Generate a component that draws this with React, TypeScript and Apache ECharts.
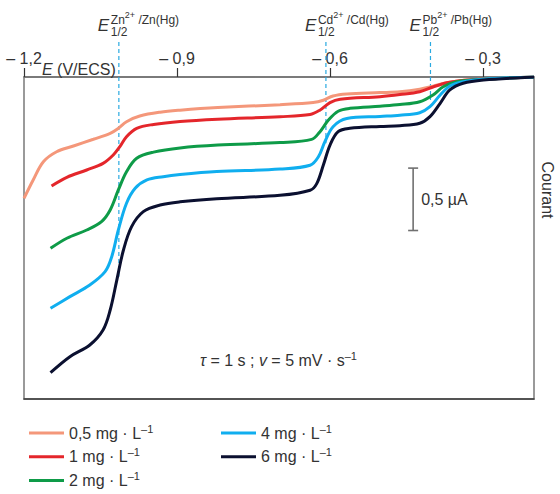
import React, { useEffect, useRef } from 'react';
import * as echarts from 'echarts';

// ---------- data ----------
const potentialTicks = [-1.2, -0.9, -0.6, -0.3];
const seriesNames = ['0,5', '1', '2', '4', '6'];
const seriesColors = ['#F4977A', '#E4262B', '#0E9B48', '#10AEEF', '#0B1030'];

const c05: [number, number][] = [
  [-1.2, 0.972], [-1.182, 0.825], [-1.162, 0.679], [-1.136, 0.599], [-1.103, 0.553],
  [-1.064, 0.499], [-1.031, 0.451], [-1.015, 0.411], [-0.999, 0.358], [-0.973, 0.313],
  [-0.933, 0.282], [-0.894, 0.266], [-0.82, 0.245], [-0.698, 0.222], [-0.633, 0.205],
  [-0.613, 0.186], [-0.594, 0.152], [-0.567, 0.136], [-0.502, 0.125], [-0.463, 0.118],
  [-0.424, 0.098], [-0.398, 0.074], [-0.371, 0.046], [-0.332, 0.024], [-0.299, 0.016],
  [-0.2, 0.0],
];
const c1: [number, number][] = [
  [-1.146, 0.873], [-1.116, 0.804], [-1.077, 0.745], [-1.045, 0.692], [-1.025, 0.625],
  [-1.012, 0.558], [-0.999, 0.478], [-0.979, 0.411], [-0.946, 0.38], [-0.894, 0.356],
  [-0.82, 0.338], [-0.698, 0.318], [-0.639, 0.301], [-0.62, 0.266], [-0.6, 0.205],
  [-0.58, 0.178], [-0.502, 0.158], [-0.463, 0.141], [-0.424, 0.118], [-0.398, 0.08],
  [-0.371, 0.046], [-0.345, 0.03], [-0.3, 0.018], [-0.2, 0.0],
];
const c2: [number, number][] = [
  [-1.148, 1.373], [-1.116, 1.292], [-1.077, 1.226], [-1.048, 1.159], [-1.031, 1.066],
  [-1.015, 0.905], [-0.999, 0.759], [-0.979, 0.651], [-0.946, 0.602], [-0.894, 0.568],
  [-0.82, 0.545], [-0.698, 0.525], [-0.636, 0.5], [-0.62, 0.44], [-0.603, 0.345],
  [-0.584, 0.274], [-0.561, 0.251], [-0.502, 0.234], [-0.463, 0.221], [-0.424, 0.198],
  [-0.398, 0.144], [-0.378, 0.078], [-0.352, 0.038], [-0.3, 0.018], [-0.2, 0.0],
];
const c4: [number, number][] = [
  [-1.148, 1.853], [-1.11, 1.76], [-1.071, 1.667], [-1.041, 1.56], [-1.028, 1.44],
  [-1.015, 1.226], [-0.999, 1.012], [-0.982, 0.892], [-0.959, 0.825], [-0.927, 0.799],
  [-0.894, 0.782], [-0.822, 0.758], [-0.698, 0.737], [-0.639, 0.707], [-0.623, 0.641],
  [-0.61, 0.518], [-0.594, 0.398], [-0.567, 0.333], [-0.502, 0.316], [-0.463, 0.306],
  [-0.424, 0.286], [-0.404, 0.238], [-0.384, 0.144], [-0.365, 0.072], [-0.339, 0.038],
  [-0.3, 0.018], [-0.2, 0.0],
];
const c6: [number, number][] = [
  [-1.148, 2.369], [-1.11, 2.241], [-1.071, 2.147], [-1.045, 2.027], [-1.031, 1.867],
  [-1.018, 1.627], [-1.005, 1.386], [-0.989, 1.199], [-0.966, 1.079], [-0.933, 1.026],
  [-0.894, 1.0], [-0.822, 0.975], [-0.698, 0.948], [-0.639, 0.907], [-0.626, 0.854],
  [-0.613, 0.705], [-0.6, 0.545], [-0.584, 0.438], [-0.561, 0.411], [-0.502, 0.396],
  [-0.463, 0.39], [-0.424, 0.371], [-0.404, 0.318], [-0.384, 0.211], [-0.365, 0.104],
  [-0.339, 0.05], [-0.299, 0.024], [-0.2, 0.0],
];
const curves = [c05, c1, c2, c4, c6];

// half-wave potentials (V/ECS) and how far the dashed guide reaches down (µA)
const halfWaveIons = ['Zn', 'Cd', 'Pb'];
const halfWavePotentials = [-1.014, -0.608, -0.403];
const halfWaveDepths = [1.6, 0.53, 0.185];
const labelLevel = -0.28; // current level (above frame) where the guides start

// scale bar: potential, start current, size (µA)
const scaleBarE = -0.437;
const scaleBarStart = 0.73;
const scaleBarSize = 0.5;
const scaleBarLabel = '0,5 µA';

const FONT = '"Liberation Sans", Arial, Helvetica, sans-serif';
const TXT = '#333';

export default function App() {
  const ref = useRef<HTMLDivElement>(null);

  useEffect(() => {
    if (!ref.current) return;
    const chart = echarts.init(ref.current, undefined, { renderer: 'svg' });

    const curveSeries = curves.map((d, k) => ({
      name: seriesNames[k],
      type: 'line',
      data: d,
      smooth: 0.35,
      showSymbol: false,
      symbol: 'none',
      lineStyle: { color: seriesColors[k], width: 3 },
      itemStyle: { color: seriesColors[k] },
      z: 3 + k,
    }));

    const guideSeries = halfWavePotentials.map((E, k) => ({
      name: 'guide' + k,
      type: 'line',
      data: [[E, labelLevel], [E, halfWaveDepths[k]]],
      clip: false,
      showSymbol: false,
      symbol: 'none',
      lineStyle: { color: '#2AAAE1', width: 1.2, type: [4, 3] },
      z: 2,
      silent: true,
    }));

    const halfWaveLabelSeries = {
      type: 'custom',
      clip: false,
      silent: true,
      encode: { x: 0, y: 1 },
      data: halfWavePotentials.map((E, k) => [E, labelLevel, k]),
      renderItem: (params: any, api: any) => {
        const p = api.coord([api.value(0), api.value(1)]);
        const ion = halfWaveIons[api.value(2)];
        return {
          type: 'group',
          children: [
            {
              type: 'text',
              x: p[0] - 21,
              y: p[1] - 16.5,
              style: {
                text: 'E',
                fontSize: 17,
                fontStyle: 'italic',
                fontFamily: FONT,
                fill: TXT,
                verticalAlign: 'middle',
                align: 'left',
              },
            },
            {
              type: 'text',
              x: p[0] - 8,
              y: p[1] - 24,
              style: {
                text: `{a|${ion}}{b|2+}{a| /${ion}(Hg)}`,
                verticalAlign: 'middle',
                align: 'left',
                rich: {
                  a: { fontSize: 12, lineHeight: 15, fontFamily: FONT, fill: TXT, verticalAlign: 'bottom' },
                  b: { fontSize: 9, lineHeight: 10, fontFamily: FONT, fill: TXT, verticalAlign: 'top' },
                },
              },
            },
            {
              type: 'text',
              x: p[0] - 8,
              y: p[1] - 10,
              style: {
                text: '1/2',
                fontSize: 12,
                fontFamily: FONT,
                fill: TXT,
                verticalAlign: 'middle',
                align: 'left',
              },
            },
          ],
        };
      },
      z: 10,
    };

    const scaleBarSeries = {
      type: 'custom',
      clip: false,
      silent: true,
      encode: { x: 0, y: 1 },
      data: [[scaleBarE, scaleBarStart, scaleBarStart + scaleBarSize]],
      renderItem: (params: any, api: any) => {
        const a = api.coord([api.value(0), api.value(1)]);
        const b = api.coord([api.value(0), api.value(2)]);
        const st = { stroke: '#707070', lineWidth: 1.6 };
        return {
          type: 'group',
          children: [
            { type: 'line', shape: { x1: a[0], y1: a[1], x2: b[0], y2: b[1] }, style: st },
            { type: 'line', shape: { x1: a[0] - 5, y1: a[1], x2: a[0] + 5, y2: a[1] }, style: st },
            { type: 'line', shape: { x1: b[0] - 5, y1: b[1], x2: b[0] + 5, y2: b[1] }, style: st },
            {
              type: 'text',
              x: a[0] + 8,
              y: (a[1] + b[1]) / 2,
              style: {
                text: scaleBarLabel,
                fontSize: 16,
                fontFamily: FONT,
                fill: TXT,
                verticalAlign: 'middle',
                align: 'left',
              },
            },
          ],
        };
      },
      z: 10,
    };

    const legendCommon = {
      orient: 'vertical',
      top: 418,
      height: 90,
      icon: 'rect',
      itemWidth: 35,
      itemHeight: 3,
      itemGap: 5.7,
      itemTextGap: 9,
      selectedMode: false,
      formatter: (name: string) => `{n|${name} mg · L}{s|–1}`,
      textStyle: {
        rich: {
          n: { fontSize: 16, lineHeight: 20, color: TXT, fontFamily: FONT, verticalAlign: 'middle' },
          s: { fontSize: 11, lineHeight: 11, color: TXT, fontFamily: FONT, verticalAlign: 'top' },
        },
      },
    };

    chart.setOption({
      animation: false,
      backgroundColor: '#fff',
      grid: {
        left: 24,
        right: 26,
        top: 77,
        bottom: 95,
        show: true,
        borderColor: '#7a7a7a',
        borderWidth: 1.5,
        backgroundColor: 'transparent',
      },
      legend: [
        { ...legendCommon, left: 24, data: seriesNames.slice(0, 3) },
        { ...legendCommon, left: 216, data: seriesNames.slice(3) },
      ],
      xAxis: [
        {
          type: 'value',
          position: 'top',
          min: -1.2,
          max: -0.2,
          splitLine: { show: false },
          axisLine: { show: true, lineStyle: { color: '#707070', width: 1.5 } },
          axisTick: {
            show: true,
            inside: false,
            length: 9,
            customValues: potentialTicks,
            lineStyle: { color: '#333', width: 1.2 },
          },
          axisLabel: {
            show: true,
            customValues: potentialTicks,
            margin: 11,
            fontSize: 16,
            fontFamily: FONT,
            color: TXT,
            formatter: (v: number) => '– ' + Math.abs(v).toFixed(1).replace('.', ','),
          },
        },
        {
          type: 'value',
          position: 'bottom',
          min: -1.2,
          max: -0.2,
          splitLine: { show: false },
          axisLine: { show: true, lineStyle: { color: '#3c3c3c', width: 1.5 } },
          axisTick: { show: false },
          axisLabel: { show: false },
        },
      ],
      yAxis: {
        type: 'value',
        min: 0,
        max: 2.58,
        inverse: true,
        show: false,
      },
      graphic: [
        {
          type: 'text',
          x: 42,
          y: 69,
          style: {
            text: '{i|E}{n| (V/ECS)}',
            verticalAlign: 'middle',
            rich: {
              i: { fontSize: 16, fontStyle: 'italic', fontFamily: FONT, fill: TXT },
              n: { fontSize: 16, fontFamily: FONT, fill: TXT },
            },
          },
          z: 20,
        },
        {
          type: 'text',
          x: 547,
          y: 190,
          rotation: -Math.PI / 2,
          style: {
            text: 'Courant',
            fontSize: 16,
            fontFamily: FONT,
            fill: TXT,
            align: 'center',
            verticalAlign: 'middle',
          },
          z: 20,
        },
        {
          type: 'text',
          x: 200,
          y: 360,
          style: {
            text: '{i|τ}{n| = 1 s ; }{i|v}{n| = 5 mV · s}{s|–1}',
            verticalAlign: 'middle',
            rich: {
              i: { fontSize: 16, lineHeight: 20, fontStyle: 'italic', fontFamily: FONT, fill: TXT, verticalAlign: 'middle' },
              n: { fontSize: 16, lineHeight: 20, fontFamily: FONT, fill: TXT, verticalAlign: 'middle' },
              s: { fontSize: 11, lineHeight: 11, fontFamily: FONT, fill: TXT, verticalAlign: 'top' },
            },
          },
          z: 20,
        },
      ],
      series: [...guideSeries, ...curveSeries, halfWaveLabelSeries, scaleBarSeries],
    });

    return () => chart.dispose();
  }, []);

  return (
    <div
      ref={ref}
      style={{ position: 'fixed', left: 0, top: 0, width: 560, height: 494, background: '#fff' }}
    />
  );
}
